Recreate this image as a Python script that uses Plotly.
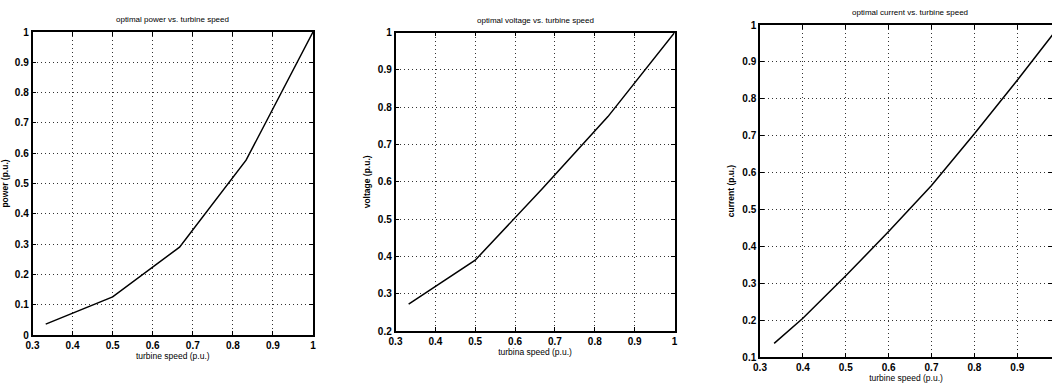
import plotly.graph_objects as go

# ---- data ----
speed_power = [0.333, 0.5, 0.667, 0.833, 1.0]
power = [0.036, 0.126, 0.29, 0.577, 1.0]

speed_voltage = [0.333, 0.5, 0.667, 0.833, 1.0]
voltage = [0.272, 0.39, 0.58, 0.775, 1.0]

speed_current = [0.333, 0.4, 0.5, 0.6, 0.7, 0.8, 0.9, 1.0]
current = [0.137, 0.205, 0.32, 0.44, 0.565, 0.705, 0.85, 1.0]

titles = ["optimal power vs. turbine speed",
          "optimal voltage vs. turbine speed",
          "optimal current vs. turbine speed"]
xlabels = ["turbine speed (p.u.)", "turbina speed (p.u.)", "turbine speed (p.u.)"]
ylabels = ["power (p.u.)", "voltage (p.u.)", "current (p.u.)"]

x_ticks_full = [0.3, 0.4, 0.5, 0.6, 0.7, 0.8, 0.9, 1.0]
x_labels_full = ["0.3", "0.4", "0.5", "0.6", "0.7", "0.8", "0.9", "1"]
y_ticks_p = [0, 0.1, 0.2, 0.3, 0.4, 0.5, 0.6, 0.7, 0.8, 0.9, 1.0]
y_labels_p = ["0", "0.1", "0.2", "0.3", "0.4", "0.5", "0.6", "0.7", "0.8", "0.9", "1"]
y_ticks_v = [0.2, 0.3, 0.4, 0.5, 0.6, 0.7, 0.8, 0.9, 1.0]
y_labels_v = ["0.2", "0.3", "0.4", "0.5", "0.6", "0.7", "0.8", "0.9", "1"]
y_ticks_c = [0.1, 0.2, 0.3, 0.4, 0.5, 0.6, 0.7, 0.8, 0.9, 1.0]
y_labels_c = ["0.1", "0.2", "0.3", "0.4", "0.5", "0.6", "0.7", "0.8", "0.9", "1"]

W, H = 1052, 385
FONT = "Liberation Sans, Arial, sans-serif"

# plot boxes in pixels (left, right, top, bottom)
boxes = [(32.5, 313, 32, 335), (395.5, 674.5, 32.7, 331), (760, 1052, 25, 357)]

fig = go.Figure()
fig.add_trace(go.Scatter(x=speed_power, y=power, mode="lines",
                         line=dict(color="black", width=1.5), xaxis="x", yaxis="y"))
fig.add_trace(go.Scatter(x=speed_voltage, y=voltage, mode="lines",
                         line=dict(color="black", width=1.5), xaxis="x2", yaxis="y2"))
fig.add_trace(go.Scatter(x=speed_current, y=current, mode="lines",
                         line=dict(color="black", width=1.5), xaxis="x3", yaxis="y3"))

axis_common = dict(showline=True, linecolor="black", linewidth=1.5, mirror="ticks",
                   ticks="inside", ticklen=4, tickcolor="black",
                   showgrid=True, gridcolor="#333333", gridwidth=1, griddash="1px,3px",
                   zeroline=False, tickfont=dict(family=FONT, size=10, color="black", weight="bold"),
                   automargin=False)

xranges = [[0.3, 1.0], [0.3, 1.0], [0.3, 0.981]]
yranges = [[0, 1], [0.2, 1], [0.1, 1]]
yt = [(y_ticks_p, y_labels_p), (y_ticks_v, y_labels_v), (y_ticks_c, y_labels_c)]
xt = [(x_ticks_full, x_labels_full), (x_ticks_full, x_labels_full),
      (x_ticks_full[:-1], x_labels_full[:-1])]

layout = dict(width=W, height=H, margin=dict(l=0, r=0, t=0, b=0),
              paper_bgcolor="white", plot_bgcolor="white", showlegend=False,
              annotations=[])

for i, (l, r, t, b) in enumerate(boxes):
    sfx = "" if i == 0 else str(i + 1)
    xa = dict(axis_common)
    xa.update(domain=[l / W, min(r / W, 1.0)], range=xranges[i],
              tickvals=xt[i][0], ticktext=xt[i][1], anchor="y" + sfx,
              title=dict(text=xlabels[i], font=dict(family=FONT, size=8.5, color="black"),
                         standoff=2))
    ya = dict(axis_common)
    ya.update(domain=[1 - b / H, 1 - t / H], range=yranges[i],
              tickvals=yt[i][0], ticktext=yt[i][1], anchor="x" + sfx,
              title=dict(text=ylabels[i], font=dict(family=FONT, size=8.5, color="black", weight="bold"),
                         standoff=6))
    layout["xaxis" + sfx] = xa
    layout["yaxis" + sfx] = ya
    layout["annotations"].append(dict(
        text=titles[i], xref="paper", yref="paper",
        x=(l + min(r, 1052)) / 2 / W if i < 2 else 910 / W,
        y=1 - (t - 6) / H, xanchor="center", yanchor="bottom", showarrow=False,
        font=dict(family=FONT, size=8, color="black")))

fig.update_layout(**layout)
fig.write_html("out.html")
